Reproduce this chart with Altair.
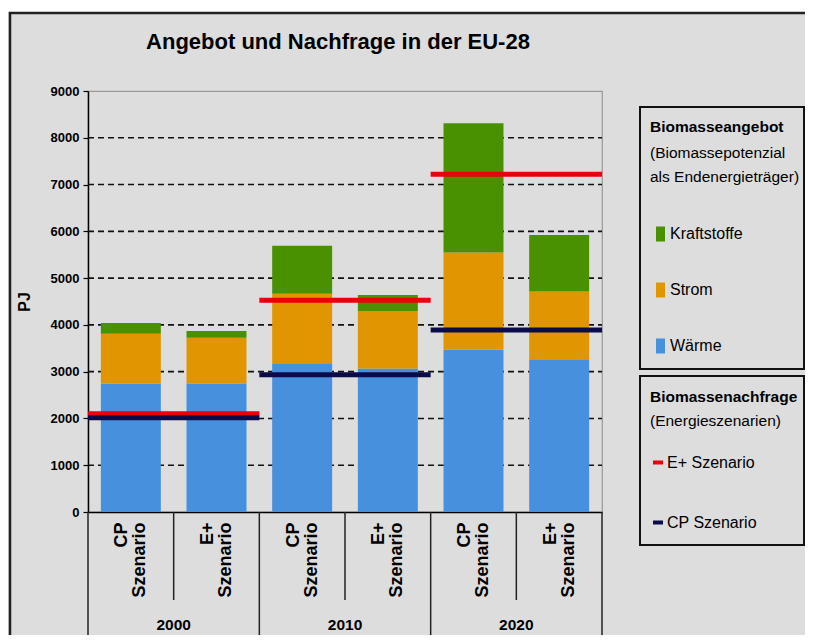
import altair as alt
import pandas as pd

# ---------------- data ----------------
title_text = "Angebot und Nachfrage in der EU-28"
years = ["2000", "2010", "2020"]
scenarios = ["CP", "E+"]
scenario_word = "Szenario"
supply_cats = ["Kraftstoffe", "Strom", "Wärme"]
waerme = [2745, 2745, 3180, 3070, 3470, 3265]
strom = [1065, 980, 1485, 1225, 2075, 1450]
kraftstoffe = [230, 145, 1025, 345, 2765, 1205]
demand_names = ["E+ Szenario", "CP Szenario"]
demand_eplus = [2100, 4525, 7220]
demand_cp = [2015, 2935, 3890]
y_ticks = [0, 1000, 2000, 3000, 4000, 5000, 6000, 7000, 8000, 9000]
grid_values = [1000, 2000, 3000, 4000, 5000, 6000, 7000, 8000]
legend1_title = ["Biomasseangebot", "(Biomassepotenzial", "als Endenergieträger)"]
legend2_title = ["Biomassenachfrage", "(Energieszenarien)"]
y_title = "PJ"

supply_colors = ["#4A9100", "#E09600", "#4690DE"]
demand_colors = ["#E8000D", "#0B0B4A"]
BG = "#DDDDDD"
FR = "Liberation Sans, Arial, sans-serif"

PLOT_W, PLOT_H = 514, 421
BAR_HALF = 0.35

# ---------------- tables ----------------
rows = []
for i in range(len(waerme)):
    base = 0
    for cat, vals in (("Wärme", waerme), ("Strom", strom), ("Kraftstoffe", kraftstoffe)):
        rows.append({"pos": i, "x0": i + 0.5 - BAR_HALF, "x1": i + 0.5 + BAR_HALF,
                     "cat": cat, "y0": base, "y1": base + vals[i]})
        base += vals[i]
bars_df = pd.DataFrame(rows)

drows = []
for name, vals in ((demand_names[0], demand_eplus), (demand_names[1], demand_cp)):
    for g, v in enumerate(vals):
        drows.append({"scen": name, "x0": 2 * g, "x1": 2 * g + 2, "v": v})
demand_df = pd.DataFrame(drows)

grid_df = pd.DataFrame({"g": grid_values})
years_df = pd.DataFrame({"year": years, "xc": [2 * g + 1 for g in range(len(years))]})
inner_sep = pd.DataFrame({"xs": [2 * g + 1 for g in range(len(years))]})
outer_sep = pd.DataFrame({"xs": [2 * g for g in range(len(years) + 1)]})

label_expr = "floor(datum.value) % 2 == 0 ? ['{a}', '{w}'] : ['{b}', '{w}']".format(
    a=scenarios[0], b=scenarios[1], w=scenario_word)

xscale = alt.Scale(domain=[0, 6], nice=False, zero=False)
yscale = alt.Scale(domain=[0, 9000], nice=False)

# ---------------- layers ----------------
grid = alt.Chart(grid_df).mark_rule(color="#111111", strokeWidth=1.6, strokeDash=[6, 4]).encode(
    y=alt.Y("g:Q", scale=yscale),
    x=alt.value(0), x2=alt.value(PLOT_W),
)

bars = alt.Chart(bars_df).mark_rect().encode(
    x=alt.X("x0:Q", scale=xscale,
            axis=alt.Axis(values=[0.5, 1.5, 2.5, 3.5, 4.5, 5.5], labelExpr=label_expr,
                          labelAngle=270, labelFont=FR, labelFontWeight="bold",
                          labelFontSize=18, labelLineHeight=18, labelColor="black",
                          labelPadding=10, labelOffset=-9, ticks=False, grid=False,
                          title=None, domainColor="black", domainWidth=1.5)),
    x2="x1:Q",
    y=alt.Y("y0:Q", scale=yscale,
            axis=alt.Axis(values=y_ticks, format="d", grid=False, title=y_title,
                          titleFont=FR, titleFontSize=16, titleFontWeight="bold",
                          titleColor="black", titlePadding=18, labelFont=FR,
                          labelFontSize=13, labelFontWeight="bold", labelColor="black",
                          labelPadding=4, tickSize=5, tickColor="black", tickWidth=1.2,
                          domainColor="black", domainWidth=1.5)),
    y2="y1:Q",
    fill=alt.Fill("cat:N", scale=alt.Scale(domain=supply_cats, range=supply_colors),
                  legend=alt.Legend(
                      title=[" ", legend1_title[1], legend1_title[2]],
                      orient="none", legendX=562, legendY=30,
                      titleFont=FR, titleFontSize=15.5, titleFontWeight="normal",
                      titleColor="black", titleLineHeight=24.5, titlePadding=40,
                      labelFont=FR, labelFontSize=16, labelColor="black",
                      symbolType="M-0.6,-1H0.6V1H-0.6Z", symbolSize=225,
                      symbolOffset=2, labelOffset=1, rowPadding=39, padding=0)),
)

demand = alt.Chart(demand_df).mark_rule(strokeWidth=5).encode(
    x=alt.X("x0:Q", scale=xscale),
    x2="x1:Q",
    y=alt.Y("v:Q", scale=yscale),
    stroke=alt.Stroke("scen:N", scale=alt.Scale(domain=demand_names, range=demand_colors),
                      legend=alt.Legend(
                          title=legend2_title[0], orient="none", legendX=562, legendY=299,
                          titleFont=FR, titleFontSize=15.5, titleFontWeight="bold",
                          titleColor="black", titlePadding=49,
                          labelFont=FR, labelFontSize=16, labelColor="black",
                          symbolType="stroke", symbolSize=100, symbolStrokeWidth=4,
                          symbolOffset=0, labelOffset=1, rowPadding=44, padding=0)),
)

sep_inner = alt.Chart(inner_sep).mark_rule(color="#222222", strokeWidth=1.5).encode(
    x=alt.X("xs:Q", scale=xscale), y=alt.value(PLOT_H), y2=alt.value(PLOT_H + 88))
sep_outer = alt.Chart(outer_sep).mark_rule(color="#222222", strokeWidth=1.5).encode(
    x=alt.X("xs:Q", scale=xscale), y=alt.value(PLOT_H), y2=alt.value(PLOT_H + 127))

year_text = alt.Chart(years_df).mark_text(font=FR, fontSize=15.5, fontWeight="bold",
                                          color="black", baseline="middle").encode(
    x=alt.X("xc:Q", scale=xscale), y=alt.value(PLOT_H + 113), text="year:N")

title_mark = alt.Chart(pd.DataFrame({"t": [title_text]})).mark_text(
    font=FR, fontSize=22, fontWeight="bold", color="black", align="center",
    baseline="alphabetic").encode(x=alt.value(250), y=alt.value(-42), text="t:N")

leg1_head = alt.Chart(pd.DataFrame({"t": [legend1_title[0]]})).mark_text(
    font=FR, fontSize=15.5, fontWeight="bold", color="black", align="left", baseline="middle"
).encode(x=alt.value(562), y=alt.value(36), text="t:N")
leg2_sub = alt.Chart(pd.DataFrame({"t": [legend2_title[1]]})).mark_text(
    font=FR, fontSize=15.5, color="black", align="left", baseline="middle"
).encode(x=alt.value(562), y=alt.value(330), text="t:N")

box1 = alt.Chart(pd.DataFrame({"b": [1]})).mark_rect(
    fill=None, stroke="#111111", strokeWidth=2).encode(
    x=alt.value(552), x2=alt.value(716), y=alt.value(16), y2=alt.value(278))
box2 = alt.Chart(pd.DataFrame({"b": [2]})).mark_rect(
    fill=None, stroke="#111111", strokeWidth=2).encode(
    x=alt.value(552), x2=alt.value(716), y=alt.value(285), y2=alt.value(454))

frame = alt.Chart(pd.DataFrame({"f": [0]})).mark_rect(
    fill=None, stroke="#222222", strokeWidth=2.5).encode(
    x=alt.value(-78), x2=alt.value(740), y=alt.value(-78), y2=alt.value(600))
top_strip = alt.Chart(pd.DataFrame({"f": [0]})).mark_rect(fill="white").encode(
    x=alt.value(-90), x2=alt.value(740), y=alt.value(-90), y2=alt.value(-79))

chart = alt.layer(
    top_strip, grid, bars, demand, sep_inner, sep_outer, year_text, title_mark,
    box1, box2, leg1_head, leg2_sub, frame
).properties(
    width=PLOT_W, height=PLOT_H,
    autosize=alt.AutoSizeParams(type="none"),
    padding={"left": 80, "top": 83, "right": 203, "bottom": 123},
    background=BG,
).configure_view(stroke="#9A9A9A", strokeWidth=1.2, fill=None)

chart.save("out.html", embed_options={"renderer": "svg", "actions": False})
